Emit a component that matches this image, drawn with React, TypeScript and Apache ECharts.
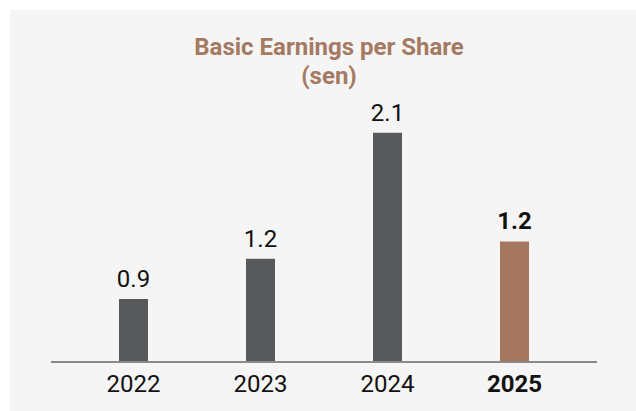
import React, { useEffect, useRef } from "react";
import * as echarts from "echarts";

const years = ["2022", "2023", "2024", "2025"];
// printed values (labels)
const epsLabels = ["0.9", "1.2", "2.1", "1.2"];
// bar heights as drawn in the picture
const barValues = [0.57, 0.94, 2.1, 1.1];
const highlightIndex = 3;

const GREY = "#58595b";
const BROWN = "#a5775f";

export default function App() {
  const ref = useRef<HTMLDivElement>(null);
  useEffect(() => {
    if (!ref.current) return;
    const chart = echarts.init(ref.current, undefined, { renderer: "svg" });
    chart.setOption({
      animation: false,
      backgroundColor: "#ffffff",
      textStyle: { fontFamily: "Roboto" },
      graphic: [
        {
          type: "rect",
          z: -10,
          silent: true,
          shape: { x: 10, y: 10, width: 626, height: 401 },
          style: { fill: "#f5f5f5" },
        },
        {
          type: "line",
          z: 10,
          silent: true,
          shape: { x1: 51, y1: 362, x2: 597, y2: 362 },
          style: { stroke: "#8a8a8c", lineWidth: 2 },
        },
      ],
      title: {
        text: "Basic Earnings per Share\n(sen)",
        left: 324,
        textAlign: "center",
        top: 27,
        textStyle: {
          fontFamily: "Roboto",
          fontWeight: "bold",
          fontSize: 24,
          lineHeight: 29,
          color: "#a57a62",
        },
      },
      grid: { left: 70, right: 58, top: 35, bottom: 50 },
      xAxis: {
        type: "category",
        data: years.map((y, i) =>
          i === highlightIndex
            ? { value: y, textStyle: { fontWeight: "bold" } }
            : y
        ),
        axisLine: { show: false },
        axisTick: { show: false },
        axisLabel: {
          fontFamily: "Roboto",
          fontSize: 24,
          color: "#111111",
          margin: 11,
        },
      },
      yAxis: {
        type: "value",
        min: 0,
        max: 3,
        show: false,
        splitLine: { show: false },
      },
      series: [
        {
          type: "bar",
          barWidth: 29,
          data: barValues.map((v, i) => ({
            value: v,
            itemStyle: { color: i === highlightIndex ? BROWN : GREY },
            label: {
              show: true,
              position: "top",
              distance: 8,
              formatter: () => epsLabels[i],
              fontFamily: "Roboto",
              fontSize: 24,
              color: "#111111",
              fontWeight: i === highlightIndex ? "bold" : "normal",
            },
          })),
        },
      ],
    });
    return () => chart.dispose();
  }, []);
  return (
    <div
      ref={ref}
      style={{ position: "fixed", left: 0, top: 0, width: 636, height: 411 }}
    />
  );
}
